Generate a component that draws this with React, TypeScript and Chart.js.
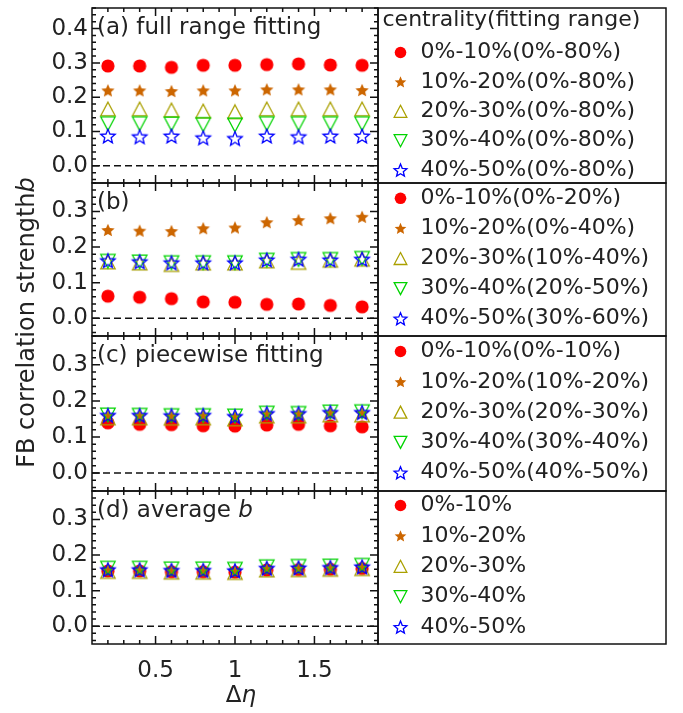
import React, { useEffect, useRef } from 'react';
import { Chart, registerables } from 'chart.js';

Chart.register(...registerables);

// Δη values at which the FB correlation strength was extracted
const deltaEta = [0.2, 0.4, 0.6, 0.8, 1.0, 1.2, 1.4, 1.6, 1.8];
const xLabelTicks = [0.5, 1, 1.5];
const yLabelTicksTall = [0, 0.1, 0.2, 0.3, 0.4];
const yLabelTicks = [0, 0.1, 0.2, 0.3];

const centralityClasses = ['0%-10%', '10%-20%', '20%-30%', '30%-40%', '40%-50%'];
const fullRangeWindows = ['0%-80%', '0%-80%', '0%-80%', '0%-80%', '0%-80%'];
const selectedWindows = ['0%-20%', '0%-40%', '10%-40%', '20%-50%', '30%-60%'];
const piecewiseWindows = ['0%-10%', '10%-20%', '20%-30%', '30%-40%', '40%-50%'];

// (a) full range fitting
const fullRange0to10 = [0.291, 0.291, 0.287, 0.293, 0.293, 0.295, 0.297, 0.294, 0.293];
const fullRange10to20 = [0.220, 0.220, 0.218, 0.220, 0.220, 0.223, 0.223, 0.223, 0.221];
const fullRange20to30 = [0.166, 0.166, 0.163, 0.160, 0.158, 0.166, 0.166, 0.166, 0.166];
const fullRange30to40 = [0.123, 0.123, 0.122, 0.120, 0.119, 0.123, 0.123, 0.123, 0.123];
const fullRange40to50 = [0.087, 0.085, 0.087, 0.082, 0.080, 0.087, 0.085, 0.087, 0.087];

// (b) selected fitting windows
const selected0to10 = [0.062, 0.059, 0.055, 0.046, 0.045, 0.039, 0.040, 0.036, 0.032];
const selected10to20 = [0.248, 0.246, 0.245, 0.253, 0.255, 0.270, 0.276, 0.281, 0.285];
const selected20to30 = [0.158, 0.155, 0.151, 0.155, 0.155, 0.161, 0.157, 0.163, 0.166];
const selected30to40 = [0.160, 0.158, 0.156, 0.156, 0.156, 0.163, 0.165, 0.165, 0.168];
const selected40to50 = [0.162, 0.159, 0.156, 0.156, 0.156, 0.164, 0.166, 0.164, 0.166];

// (c) piecewise fitting
const piecewise0to10 = [0.139, 0.135, 0.134, 0.131, 0.130, 0.133, 0.135, 0.131, 0.128];
const piecewise10to20 = [0.159, 0.159, 0.158, 0.159, 0.156, 0.164, 0.164, 0.167, 0.167];
const piecewise20to30 = [0.153, 0.153, 0.152, 0.153, 0.150, 0.158, 0.158, 0.161, 0.161];
const piecewise30to40 = [0.161, 0.160, 0.159, 0.159, 0.158, 0.166, 0.165, 0.169, 0.170];
const piecewise40to50 = [0.160, 0.160, 0.159, 0.160, 0.157, 0.165, 0.165, 0.168, 0.168];

// (d) average b
const average0to10 = [0.155, 0.155, 0.153, 0.153, 0.152, 0.158, 0.159, 0.160, 0.162];
const average10to20 = [0.158, 0.158, 0.156, 0.156, 0.155, 0.162, 0.163, 0.164, 0.166];
const average20to30 = [0.154, 0.154, 0.152, 0.152, 0.151, 0.158, 0.159, 0.160, 0.162];
const average30to40 = [0.163, 0.163, 0.161, 0.161, 0.160, 0.167, 0.168, 0.169, 0.171];
const average40to50 = [0.159, 0.159, 0.157, 0.157, 0.156, 0.163, 0.164, 0.165, 0.167];

const W = 683;
const H = 713;
const PLOT_LEFT = 92;
const PLOT_RIGHT = 378;
const LEGEND_RIGHT = 666;
const X_LABEL_BAND = 45;
const TEXT = '#222';
const FONT = '"DejaVu Sans", sans-serif';

type MarkerKind = 'circle' | 'starFilled' | 'triangleUp' | 'triangleDown' | 'starOpen';
const markerKinds: MarkerKind[] = ['circle', 'starFilled', 'triangleUp', 'triangleDown', 'starOpen'];
const markerColors = ['#ff0000', '#cc6600', '#aaa000', '#00d400', '#0000ff'];

interface Panel {
  tag: string;
  title: string;
  italicTail: string;
  legendTitle: string;
  windows: string[] | null;
  series: number[][];
  yMax: number;
  yTicks: number[];
  top: number;
  bottom: number;
  legendFirst: number;
  legendStep: number;
}

const panels: Panel[] = [
  {
    tag: '(a)', title: 'full range fitting', italicTail: '', legendTitle: 'centrality(fitting range)',
    windows: fullRangeWindows,
    series: [fullRange0to10, fullRange10to20, fullRange20to30, fullRange30to40, fullRange40to50],
    yMax: 0.46, yTicks: yLabelTicksTall, top: 4, bottom: 183, legendFirst: 44.5, legendStep: 29.4,
  },
  {
    tag: '(b)', title: '', italicTail: '', legendTitle: '',
    windows: selectedWindows,
    series: [selected0to10, selected10to20, selected20to30, selected30to40, selected40to50],
    yMax: 0.38, yTicks: yLabelTicks, top: 183, bottom: 336, legendFirst: 15.3, legendStep: 30.1,
  },
  {
    tag: '(c)', title: 'piecewise fitting', italicTail: '', legendTitle: '',
    windows: piecewiseWindows,
    series: [piecewise0to10, piecewise10to20, piecewise20to30, piecewise30to40, piecewise40to50],
    yMax: 0.38, yTicks: yLabelTicks, top: 336, bottom: 491, legendFirst: 15.5, legendStep: 30.3,
  },
  {
    tag: '(d)', title: 'average ', italicTail: 'b', legendTitle: '',
    windows: null,
    series: [average0to10, average10to20, average20to30, average30to40, average40to50],
    yMax: 0.38, yTicks: yLabelTicks, top: 491, bottom: 644, legendFirst: 14.5, legendStep: 30.4,
  },
];

function starPath(ctx: CanvasRenderingContext2D, x: number, y: number, R: number, ratio: number) {
  ctx.beginPath();
  for (let i = 0; i < 10; i++) {
    const r = i % 2 === 0 ? R : R * ratio;
    const ang = -Math.PI / 2 + (i * Math.PI) / 5;
    const px = x + r * Math.cos(ang);
    const py = y + r * Math.sin(ang);
    if (i === 0) ctx.moveTo(px, py);
    else ctx.lineTo(px, py);
  }
  ctx.closePath();
}

function drawMarker(ctx: CanvasRenderingContext2D, kind: MarkerKind, color: string, x: number, y: number, s: number) {
  ctx.save();
  ctx.fillStyle = color;
  ctx.strokeStyle = color;
  ctx.lineWidth = 1.3;
  ctx.lineJoin = 'miter';
  if (kind === 'circle') {
    ctx.beginPath();
    ctx.arc(x, y, 6.6 * s, 0, Math.PI * 2);
    ctx.fill();
  } else if (kind === 'starFilled') {
    const R = 7 * s;
    starPath(ctx, x, y + 0.095 * R, R, 0.46);
    ctx.fill();
  } else if (kind === 'starOpen') {
    const R = 7.6 * s;
    starPath(ctx, x, y + 0.095 * R, R, 0.44);
    ctx.stroke();
  } else {
    const w = 14.4 * s;
    const h = 13.6 * s;
    const dir = kind === 'triangleUp' ? 1 : -1;
    ctx.beginPath();
    ctx.moveTo(x, y - (dir * h) / 2);
    ctx.lineTo(x + w / 2, y + (dir * h) / 2);
    ctx.lineTo(x - w / 2, y + (dir * h) / 2);
    ctx.closePath();
    ctx.stroke();
  }
  ctx.restore();
}

function markerImage(kind: MarkerKind, color: string): HTMLCanvasElement {
  const c = document.createElement('canvas');
  c.width = 22;
  c.height = 22;
  const ctx = c.getContext('2d')!;
  drawMarker(ctx, kind, color, 11, 11, 1);
  return c;
}

// Frame, inward ticks, zero line, panel tag and legend box
const panelDecor = {
  id: 'panelDecor',
  beforeDatasetsDraw(chart: any) {
    const { ctx, chartArea: a, scales } = chart;
    const y0 = scales.y.getPixelForValue(0);
    ctx.save();
    ctx.strokeStyle = '#111';
    ctx.lineWidth = 1.5;
    ctx.setLineDash([7, 4]);
    ctx.beginPath();
    ctx.moveTo(a.left, y0);
    ctx.lineTo(a.right, y0);
    ctx.stroke();
    ctx.restore();
  },
  afterDraw(chart: any, _args: any, opts: any) {
    const { ctx, chartArea: a, scales } = chart;
    const panel: Panel = opts.panel;
    const xs = scales.x;
    const ys = scales.y;
    ctx.save();
    ctx.strokeStyle = '#111';
    ctx.lineWidth = 1.5;
    ctx.beginPath();
    for (let k = 2; k <= 18; k++) {
      const px = xs.getPixelForValue(k / 10);
      const len = k % 5 === 0 ? 8 : 4;
      ctx.moveTo(px, a.bottom);
      ctx.lineTo(px, a.bottom - len);
      ctx.moveTo(px, a.top);
      ctx.lineTo(px, a.top + len);
    }
    for (let k = -2; k * 0.02 <= panel.yMax + 1e-9; k++) {
      const py = ys.getPixelForValue(k * 0.02);
      const len = k % 5 === 0 ? 8 : 4;
      ctx.moveTo(a.left, py);
      ctx.lineTo(a.left + len, py);
      ctx.moveTo(a.right, py);
      ctx.lineTo(a.right - len, py);
    }
    ctx.stroke();
    ctx.strokeRect(a.left, a.top, a.right - a.left, a.bottom - a.top);

    // legend box
    ctx.strokeRect(a.right, a.top, LEGEND_RIGHT - a.right, a.bottom - a.top);

    ctx.fillStyle = TEXT;
    ctx.textBaseline = 'middle';
    ctx.textAlign = 'left';

    // panel tag
    const tagY = a.top + 20;
    ctx.font = `23px ${FONT}`;
    const head = panel.title ? `${panel.tag} ${panel.title}` : panel.tag;
    ctx.fillText(head, a.left + 5, tagY);
    if (panel.italicTail) {
      const wHead = ctx.measureText(head).width;
      ctx.font = `italic 23px ${FONT}`;
      ctx.fillText(panel.italicTail, a.left + 5 + wHead, tagY);
    }

    // legend
    ctx.font = `22px ${FONT}`;
    if (panel.legendTitle) {
      ctx.fillText(panel.legendTitle, a.right + 4.5, a.top + 12);
    }
    chart.data.datasets.forEach((ds: any, k: number) => {
      const ly = a.top + panel.legendFirst + k * panel.legendStep;
      drawMarker(ctx, markerKinds[k], markerColors[k], a.right + 22.5, ly, 0.88);
      ctx.fillStyle = TEXT;
      ctx.fillText(ds.label, a.right + 42.5, ly);
    });

    if (opts.axisTitles) {
      // y title
      ctx.save();
      ctx.translate(33.5, 322.5);
      ctx.rotate(-Math.PI / 2);
      ctx.textBaseline = 'alphabetic';
      ctx.font = `24px ${FONT}`;
      const main = 'FB correlation strength';
      const wMain = ctx.measureText(main).width;
      ctx.font = `italic 24px ${FONT}`;
      const wB = ctx.measureText('b').width;
      const start = -(wMain + wB) / 2;
      ctx.font = `24px ${FONT}`;
      ctx.fillText(main, start, 0);
      ctx.font = `italic 24px ${FONT}`;
      ctx.fillText('b', start + wMain, 0);
      ctx.restore();

      // x title
      ctx.textBaseline = 'alphabetic';
      ctx.font = `23px ${FONT}`;
      const wD = ctx.measureText('Δ').width;
      ctx.font = `italic 23px ${FONT}`;
      const wE = ctx.measureText('η').width;
      const sx = 241 - (wD + wE) / 2;
      ctx.font = `23px ${FONT}`;
      ctx.fillText('Δ', sx, 702);
      ctx.font = `italic 23px ${FONT}`;
      ctx.fillText('η', sx + wD, 702);
    }
    ctx.restore();
  },
};

function buildConfig(panel: Panel, isLast: boolean): any {
  const xBand = isLast ? X_LABEL_BAND : 0;
  const datasets = panel.series.map((vals, k) => ({
    label: centralityClasses[k] + (panel.windows ? `(${panel.windows[k]})` : ''),
    data: deltaEta.map((x, i) => ({ x, y: vals[i] })),
    pointStyle: markerImage(markerKinds[k], markerColors[k]),
    pointRadius: 7,
    pointHoverRadius: 7,
    showLine: false,
    order: panel.series.length - k,
  }));
  return {
    type: 'scatter',
    data: { datasets },
    options: {
      responsive: false,
      animation: false,
      devicePixelRatio: 1,
      events: [],
      layout: { padding: { left: 0, right: W - PLOT_RIGHT, top: panel.top, bottom: H - panel.bottom - xBand } },
      plugins: {
        legend: { display: false },
        tooltip: { enabled: false },
        panelDecor: { panel, axisTitles: isLast },
      },
      scales: {
        x: {
          type: 'linear',
          position: 'bottom',
          min: 0.1,
          max: 1.9,
          afterBuildTicks: (s: any) => { s.ticks = xLabelTicks.map((v) => ({ value: v })); },
          afterFit: (s: any) => { s.height = xBand; s.paddingLeft = 0; s.paddingRight = 0; },
          grid: { display: false, drawTicks: false },
          border: { display: false },
          ticks: {
            display: isLast,
            autoSkip: false,
            maxRotation: 0,
            padding: 13,
            color: TEXT,
            font: { family: 'DejaVu Sans', size: 23 },
            callback: (v: number) => String(v),
          },
        },
        y: {
          type: 'linear',
          position: 'left',
          min: -0.05,
          max: panel.yMax,
          afterBuildTicks: (s: any) => { s.ticks = panel.yTicks.map((v) => ({ value: v })); },
          afterFit: (s: any) => { s.width = PLOT_LEFT; s.paddingTop = 0; s.paddingBottom = 0; },
          grid: { display: false, drawTicks: false },
          border: { display: false },
          ticks: {
            padding: 4,
            color: TEXT,
            font: { family: 'DejaVu Sans', size: 23 },
            callback: (v: number) => v.toFixed(1),
          },
        },
      },
    },
    plugins: [panelDecor],
  };
}

export default function App() {
  const refs = useRef<(HTMLCanvasElement | null)[]>([]);
  useEffect(() => {
    const charts = panels.map((p, i) => new Chart(refs.current[i]!, buildConfig(p, i === panels.length - 1)));
    return () => charts.forEach((c) => c.destroy());
  }, []);
  return (
    <div style={{ position: 'fixed', left: 0, top: 0, width: W, height: H, background: '#fff' }}>
      {panels.map((p, i) => (
        <canvas
          key={p.tag}
          ref={(el) => { refs.current[i] = el; }}
          width={W}
          height={H}
          style={{ position: 'absolute', left: 0, top: 0 }}
        />
      ))}
    </div>
  );
}
